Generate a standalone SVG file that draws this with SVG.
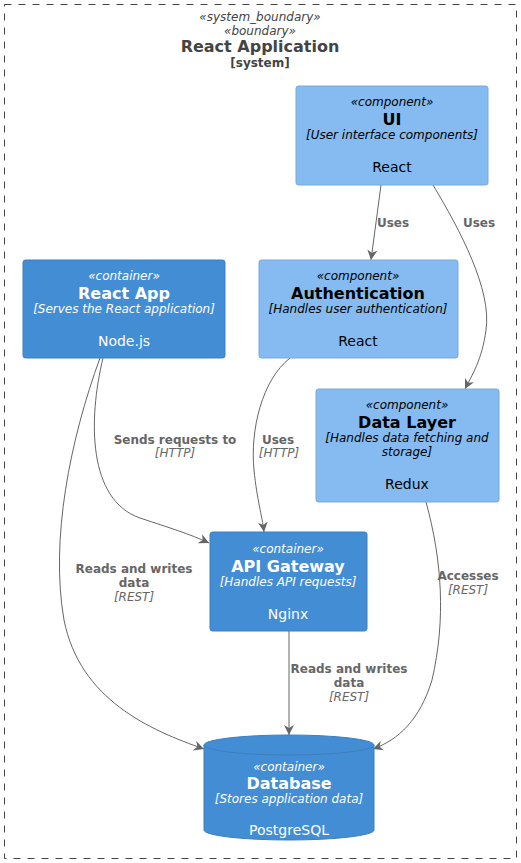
<svg xmlns="http://www.w3.org/2000/svg" width="521" height="863" viewBox="0 0 521 863">
<defs>
<style>
text{font-family:"DejaVu Sans","Verdana",sans-serif;text-anchor:middle}
.st{font-size:12px;font-style:italic}
.nm{font-size:16px;font-weight:bold}
.ds{font-size:12px;font-style:italic}
.tc{font-size:14px}
.comp rect{fill:#85BBF0;stroke:#78A8D8;stroke-width:1}
.comp text{fill:#000000}
.cont rect,.cont path{fill:#438DD5;stroke:#3C7FC0;stroke-width:1}
.cont text{fill:#FFFFFF}
.edge{fill:none;stroke:#666666;stroke-width:1}
.lb{font-size:12px;font-weight:bold;fill:#666666}
.lt{font-size:12px;font-style:italic;fill:#666666}
</style>
<marker id="ah" viewBox="0 0 10 10" refX="10" refY="5" markerWidth="10" markerHeight="10" markerUnits="userSpaceOnUse" orient="auto">
<path d="M0,0 L10,5 L0,10 L3,5 z" fill="#666666"/>
</marker>
</defs>
<rect width="521" height="863" fill="#FFFFFF"/>
<g id="boundary">
<rect x="4.5" y="4.5" width="512" height="854" fill="none" stroke="#444444" stroke-width="1" stroke-dasharray="7,7"/>
<text x="260" y="21" class="st" fill="#444444">«system_boundary»</text>
<text x="260" y="35" class="st" fill="#444444">«boundary»</text>
<text x="260" y="52" class="nm" fill="#444444">React Application</text>
<text x="260" y="67" font-size="12" font-weight="bold" fill="#444444">[system]</text>
</g>
<g id="connectors">
<path class="edge" marker-end="url(#ah)" d="M381,185 L371,260"/>
<path class="edge" marker-end="url(#ah)" d="M433,185 C460,230 492,290 486,330 C482,360 472,375 465,389"/>
<path class="edge" marker-end="url(#ah)" d="M103,358 C88,420 88,500 140,518 C170,528 190,534 209,543"/>
<path class="edge" marker-end="url(#ah)" d="M100,358 C70,440 50,540 64,620 C80,700 150,730 204,749"/>
<path class="edge" marker-end="url(#ah)" d="M290,358 C262,380 250,430 254,470 C257,500 262,515 264,532"/>
<path class="edge" marker-end="url(#ah)" d="M426,502 C442,560 446,620 432,680 C420,720 398,740 373,749"/>
<path class="edge" marker-end="url(#ah)" d="M289,631 L289,735"/>
<text x="393" y="227" class="lb">Uses</text>
<text x="479" y="227" class="lb">Uses</text>
<text x="175" y="444" class="lb">Sends requests to</text>
<text x="175" y="457" class="lt">[HTTP]</text>
<text x="278" y="444" class="lb">Uses</text>
<text x="279" y="457" class="lt">[HTTP]</text>
<text x="134" y="573" class="lb">Reads and writes</text>
<text x="134" y="587" class="lb">data</text>
<text x="134" y="601" class="lt">[REST]</text>
<text x="468" y="580" class="lb">Accesses</text>
<text x="468" y="594" class="lt">[REST]</text>
<text x="349" y="673" class="lb">Reads and writes</text>
<text x="349" y="687" class="lb">data</text>
<text x="349" y="701" class="lt">[REST]</text>
</g>
<g id="ui" class="comp">
<rect x="296" y="86" width="192" height="99" rx="2.5"/>
<text x="392" y="106" class="st">«component»</text>
<text x="392" y="125" class="nm">UI</text>
<text x="392" y="139" class="ds">[User interface components]</text>
<text x="392" y="172" class="tc">React</text>
</g>
<g id="react-app" class="cont">
<rect x="23" y="260" width="202" height="98" rx="2.5"/>
<text x="124" y="280" class="st">«container»</text>
<text x="124" y="299" class="nm">React App</text>
<text x="124" y="313" class="ds">[Serves the React application]</text>
<text x="124" y="346" class="tc">Node.js</text>
</g>
<g id="authentication" class="comp">
<rect x="259" y="260" width="199" height="98" rx="2.5"/>
<text x="358" y="280" class="st">«component»</text>
<text x="358" y="299" class="nm">Authentication</text>
<text x="358" y="313" class="ds">[Handles user authentication]</text>
<text x="358" y="346" class="tc">React</text>
</g>
<g id="data-layer" class="comp">
<rect x="316" y="389" width="183" height="113" rx="2.5"/>
<text x="407" y="409" class="st">«component»</text>
<text x="407" y="428" class="nm">Data Layer</text>
<text x="407" y="442" class="ds">[Handles data fetching and</text>
<text x="407" y="456" class="ds">storage]</text>
<text x="407" y="489" class="tc">Redux</text>
</g>
<g id="api-gateway" class="cont">
<rect x="210" y="532" width="157" height="99" rx="2.5"/>
<text x="288" y="553" class="st">«container»</text>
<text x="288" y="572" class="nm">API Gateway</text>
<text x="288" y="586" class="ds">[Handles API requests]</text>
<text x="288" y="619" class="tc">Nginx</text>
</g>
<g id="database" class="cont">
<path d="M204,745 A85,10 0 0 1 374,745 V830 A85,10 0 0 1 204,830 Z"/>
<path d="M204,745 A85,10 0 0 0 374,745" fill="none"/>
<text x="289" y="771" class="st">«container»</text>
<text x="289" y="789" class="nm">Database</text>
<text x="289" y="803" class="ds">[Stores application data]</text>
<text x="289" y="835" class="tc">PostgreSQL</text>
</g>
</svg>
